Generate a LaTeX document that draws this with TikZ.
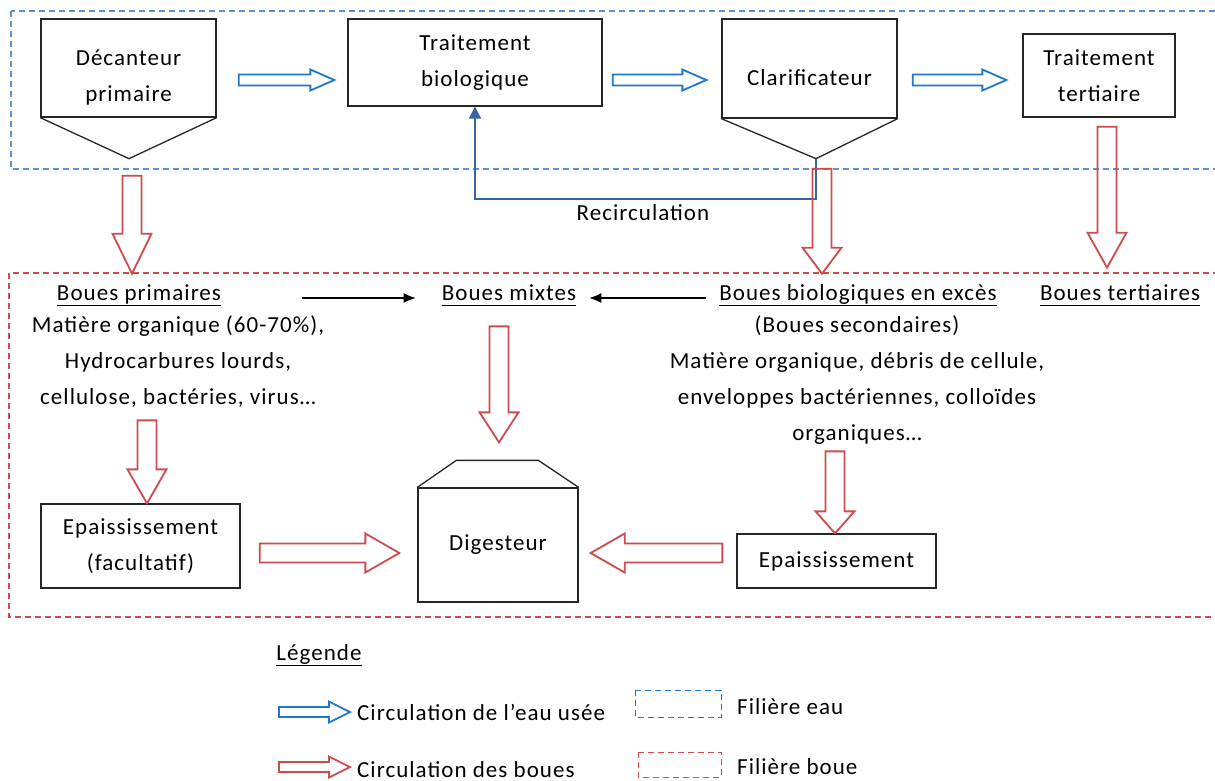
\documentclass[tikz,border=0pt]{standalone}
\usepackage{fontspec}
\setmainfont{Carlito}[LetterSpace=4.5]
\usepackage{tikz}
\usetikzlibrary{calc}
\usetikzlibrary{arrows.meta}
\definecolor{bleu}{RGB}{31,119,204}
\definecolor{bleuclair}{RGB}{90,145,215}
\definecolor{bleufonce}{RGB}{55,100,165}
\definecolor{rouge}{RGB}{205,75,75}
\newcommand{\souligne}[1]{\underline{#1\vphantom{p}}}
\tikzset{
  boite/.style={draw=black!85, line width=1.3pt, align=center, inner sep=0pt},
  texte/.style={align=center, inner sep=0pt},
  fleche/.style args={#1/#2/#3}{line width=1.8pt, to path={
     ($(\tikztotarget)!#3!(\tikztostart)$) coordinate (fcou)
     ($(\tikztostart)!#1!90:(\tikztotarget)$) -- ($(fcou)!#1!90:(\tikztotarget)$)
     -- ($(fcou)!#2!90:(\tikztotarget)$) -- (\tikztotarget)
     -- ($(fcou)!#2!-90:(\tikztotarget)$) -- ($(fcou)!#1!-90:(\tikztotarget)$)
     -- ($(\tikztostart)!#1!-90:(\tikztotarget)$) -- cycle}},
  eau/.style={draw=bleu, fleche=5.5pt/10.5pt/24pt},
  boue/.style={draw=rouge, fleche=9.5pt/19.5pt/#1},
  boue/.default=34pt,
  filiere/.style={line width=1.3pt, dash pattern=on 6pt off 4pt},
  fine/.style={line width=1.2pt, -{Latex[length=12pt,width=10pt]}},
}

\begin{document}
\begin{tikzpicture}[x=1pt, y=-1pt, font=\fontsize{23}{36}\selectfont]
\useasboundingbox (0,0) rectangle (1215,780);
\draw[bleuclair, filiere] (11,11) rectangle (1240,169);
\draw[rouge, filiere] (9,273) rectangle (1240,617);

\node[boite, minimum width=175pt, minimum height=98pt] (dec) at (128.5,68) {};
\node[texte] (dectxt) at (128.5,77) {Décanteur\\primaire};
\draw[boite] (dec.south west) -- ($(dec.south)+(0.5,41)$) -- (dec.south east);
\node[boite, minimum width=254pt, minimum height=87pt] (bio) at (475,62.5) {Traitement\\biologique};
\node[boite, minimum width=175pt, minimum height=99pt] (clar) at (809.5,68.5) {};
\node[texte] (clartxt) at (809.5,78) {Clarificateur};
\draw[boite] (clar.south west) -- ($(clar.south)+(6.5,40)$) coordinate (clarbas) -- (clar.south east);
\node[boite, minimum width=152pt, minimum height=83pt] (tert) at (1099,75.5) {Traitement\\tertiaire};

\draw[eau] ($(dec.east)+(22,12)$) to ($(bio.west)+(-13,17.5)$);
\draw[eau] ($(bio.east)+(10,17.5)$) to ($(clar.west)+(-15,11.5)$);
\draw[eau] ($(clar.east)+(15,11.5)$) to ($(tert.west)+(-16,4.5)$);

\draw[bleufonce, line width=2pt, -{Triangle[length=12pt,width=12pt]}] (clarbas) -- ++(0,40) -| (bio.south);
\node[texte] (recirc) at (643,213) {Recirculation};

\draw[boue=40pt] ($(dec.south)+(3.5,58)$) to ($(dec.south)+(3.5,156)$);
\draw[boue=26pt] ($(clarbas)+(6,10)$) to ($(clarbas)+(6,115)$);
\draw[boue=35pt] ($(tert.south)+(8,9)$) to ($(tert.south)+(8,150)$);

\node[texte] (bp) at (139,295) {\souligne{Boues primaires}};
\node[texte] (bpdesc) at (178,362) {Matière organique (60-70\%),\\Hydrocarbures lourds,\\cellulose, bactéries, virus…};
\node[texte] (bm) at (509,295) {\souligne{Boues mixtes}};
\node[texte] (bb) at (858,295) {\souligne{Boues biologiques en excès}};
\node[texte] (bbdesc) at (857,380) {(Boues secondaires)\\Matière organique, débris de cellule,\\enveloppes bactériennes, colloïdes\\organiques…};
\node[texte] (bt) at (1120,295) {\souligne{Boues tertiaires}};

\draw[fine] ($(bp.east)+(81,3)$) -- ($(bm.west)+(-26,3)$);
\draw[fine] ($(bb.west)+(-13,3)$) -- ($(bm.east)+(13,3)$);

\node[boite, minimum width=199pt, minimum height=84pt] (epg) at (140.5,546) {Epaississement\\(facultatif)};
\node[boite, minimum width=160pt, minimum height=114pt] (dig) at (498,545) {Digesteur};
\draw[boite] (dig.north west) -- ++(39,-27) -- ++(82,0) -- (dig.north east);
\node[boite, minimum width=199pt, minimum height=54pt] (epd) at (836.5,561) {Epaississement};

\draw[boue=30pt] ($(dig.north)+(1,-161)$) to ($(dig.north)+(1,-45)$);
\draw[boue] ($(epg.north)+(6.5,-83)$) to ($(epg.north)+(6.5,0)$);
\draw[boue=22pt] ($(epd.north)+(-1.5,-82)$) to ($(epd.north)+(-1.5,0)$);
\draw[boue] ($(epg.east)+(19,7)$) to ($(dig.west)+(-18,8)$);
\draw[boue] ($(epd.west)+(-14,-8)$) to ($(dig.east)+(12,8)$);

\node[texte] (leg) at (319,655) {\souligne{Légende}};
\node[texte, anchor=west] (leau) at (357,712) {Circulation de l’eau usée};
\node[texte, anchor=west] (lboue) at (357,770) {Circulation des boues};
\draw[draw=bleu, fleche=5pt/10.5pt/21pt] ($(leau.west)+(-78,0)$) to ($(leau.west)+(-7,0)$);
\draw[draw=rouge, fleche=5pt/10.5pt/21pt] ($(lboue.west)+(-78,-3)$) to ($(lboue.west)+(-7,-3)$);
\draw[bleu, filiere, line width=1pt] (635,690) rectangle (721,717);
\draw[rouge, filiere, line width=1pt] (638,752) rectangle (721,777);
\node[texte, anchor=west] (feau) at (737,707) {Filière eau};
\node[texte, anchor=west] (fboue) at (737,767) {Filière boue};
\end{tikzpicture}
\end{document}
